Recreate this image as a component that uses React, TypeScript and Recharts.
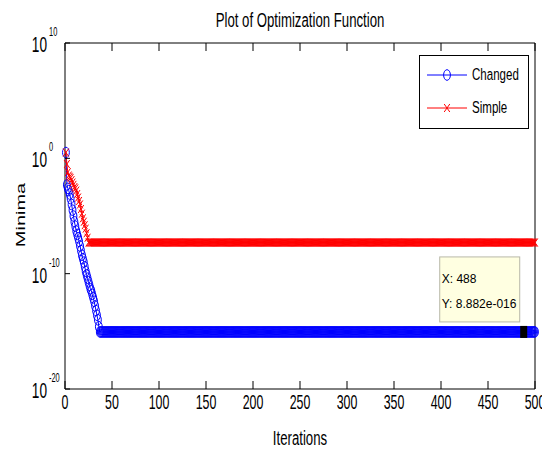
import React from 'react';
import { LineChart, Line, XAxis, YAxis, ReferenceDot } from 'recharts';

// ---- data ----
const iterationCount = 500;
const changedEarly = [
  3.2, 5e-3, 2.5e-3, 1.6e-3, 8e-4, 3.2e-4, 1e-4, 3.2e-5, 1e-5, 3.2e-6,
  1.3e-6, 5e-7, 2.5e-7, 1.3e-7, 6.3e-8, 2.5e-8, 1e-8, 4e-9, 2e-9, 1e-9,
  4e-10, 1.6e-10, 8e-11, 4e-11, 2e-11, 1e-11, 5e-12, 3.2e-12, 1.6e-12, 8e-13,
  4e-13, 1.6e-13, 6.3e-14, 2.5e-14, 1e-14, 2.5e-15,
];
const changedFinal = 8.882e-16;
const simpleEarly = [
  3.2, 0.32, 6.3e-2, 3.2e-2, 2.5e-2, 2e-2, 1.3e-2, 8e-3, 5e-3, 3.2e-3,
  2.5e-3, 1.6e-3, 8e-4, 4e-4, 2e-4, 1e-4, 4e-5, 1.6e-5, 6.3e-6, 3.2e-6,
  1.6e-6, 8e-7, 3.2e-7, 1.3e-7,
];
const simpleFinal = 5e-8;
const xTicks = [0, 50, 100, 150, 200, 250, 300, 350, 400, 450, 500];
const yTicks = [1e-20, 1e-10, 1, 1e10];
const dataTip = { x: 488, y: 8.882e-16, labelX: 'X: 488', labelY: 'Y: 8.882e-016' };
const seriesNames = { changed: 'Changed', simple: 'Simple' };
const title = 'Plot of Optimization Function';
const xLabel = 'Iterations';
const yLabel = 'Minima';

const data = Array.from({ length: iterationCount }, (_, i) => ({
  iter: i + 1,
  changed: i < changedEarly.length ? changedEarly[i] : changedFinal,
  simple: i < simpleEarly.length ? simpleEarly[i] : simpleFinal,
}));

// ---- styling ----
const FONT = '"Liberation Sans", Arial, Helvetica, sans-serif';
const SQ = 0.62;
const BLUE = '#0000ff';
const RED = '#ff0000';

const Circle = (cx: number, cy: number, key?: any) => (
  <ellipse key={key} cx={cx} cy={cy} rx={3.4} ry={5.3} fill="none" stroke={BLUE} strokeWidth={1} />
);
const Cross = (cx: number, cy: number, key?: any) => (
  <path
    key={key}
    d={`M${cx - 2.8},${cy - 4} L${cx + 2.8},${cy + 4} M${cx - 2.8},${cy + 4} L${cx + 2.8},${cy - 4}`}
    stroke={RED}
    strokeWidth={1}
    fill="none"
  />
);

const STxt = ({ x, y, size, anchor = 'start', sx = SQ, children }: any) => (
  <text
    transform={`translate(${x},${y}) scale(${sx},1)`}
    textAnchor={anchor}
    fontSize={size}
    fontFamily={FONT}
    fill="#000"
  >
    {children}
  </text>
);

const BottomTick = (p: any) => (
  <g>
    <line x1={p.x} x2={p.x} y1={p.y} y2={p.y - 8} stroke="#000" />
    <STxt x={p.x} y={p.y + 20} size={20} anchor="middle">
      {p.payload.value}
    </STxt>
  </g>
);
const TopTick = (p: any) => <line x1={p.x} x2={p.x} y1={p.y} y2={p.y + 8} stroke="#000" />;
const LeftTick = (p: any) => {
  const e = Math.round(Math.log10(p.payload.value));
  return (
    <g>
      <line x1={p.x} x2={p.x + 5} y1={p.y} y2={p.y} stroke="#000" />
      <STxt x={p.x - 18} y={p.y + 9} size={22} anchor="end">
        10
      </STxt>
      <STxt x={p.x - 16} y={p.y - 7} size={12}>
        {String(e)}
      </STxt>
    </g>
  );
};
const RightTick = (p: any) => <line x1={p.x} x2={p.x - 5} y1={p.y} y2={p.y} stroke="#000" />;

const DataTipShape = (p: any) => {
  const { cx, cy } = p;
  return (
    <g>
      <rect x={cx - 84} y={cy - 75} width={80} height={65} fill="#ffffe1" stroke="#b8b8a8" />
      <text x={cx - 82} y={cy - 49} fontSize={12} fontFamily={FONT} fill="#000">
        {dataTip.labelX}
      </text>
      <text x={cx - 82} y={cy - 24} fontSize={12} fontFamily={FONT} fill="#000">
        {dataTip.labelY}
      </text>
      <rect x={cx - 3.5} y={cy - 6} width={7} height={12} fill="#000" />
    </g>
  );
};

export default function App() {
  return (
    <div style={{ position: 'absolute', left: 0, top: 0, width: 542, height: 450, background: '#fff' }}>
      <LineChart width={542} height={450} data={data} margin={{ top: 0, right: 0, bottom: 0, left: 0 }}>
        <XAxis
          dataKey="iter"
          type="number"
          domain={[0, 500]}
          ticks={xTicks}
          interval={0}
          height={61}
          tickSize={0}
          tickMargin={0}
          tickLine={false}
          axisLine={{ stroke: '#000' }}
          tick={BottomTick}
        />
        <XAxis
          xAxisId="top"
          orientation="top"
          dataKey="iter"
          type="number"
          domain={[0, 500]}
          ticks={xTicks}
          interval={0}
          height={43}
          tickSize={0}
          tickMargin={0}
          tickLine={false}
          axisLine={{ stroke: '#000' }}
          tick={TopTick}
        />
        <YAxis
          scale="log"
          type="number"
          domain={[1e-20, 1e10]}
          ticks={yTicks}
          interval={0}
          width={65}
          tickSize={0}
          tickMargin={0}
          tickLine={false}
          axisLine={{ stroke: '#000' }}
          tick={LeftTick}
        />
        <YAxis
          yAxisId="right"
          orientation="right"
          scale="log"
          type="number"
          domain={[1e-20, 1e10]}
          ticks={yTicks}
          interval={0}
          width={7}
          tickSize={0}
          tickMargin={0}
          tickLine={false}
          axisLine={{ stroke: '#000' }}
          tick={RightTick}
        />
        <Line
          dataKey="changed"
          stroke={BLUE}
          strokeWidth={1}
          isAnimationActive={false}
          dot={(p: any) => Circle(p.cx, p.cy, `c${p.index}`)}
          activeDot={false}
        />
        <Line
          dataKey="simple"
          stroke={RED}
          strokeWidth={1}
          isAnimationActive={false}
          dot={(p: any) => Cross(p.cx, p.cy, `s${p.index}`)}
          activeDot={false}
        />
        <ReferenceDot x={dataTip.x} y={dataTip.y} r={5} shape={DataTipShape} />
      </LineChart>
      <svg
        width={542}
        height={450}
        style={{ position: 'absolute', left: 0, top: 0, pointerEvents: 'none' }}
      >
        <STxt x={300} y={27} size={20} anchor="middle" sx={0.66}>
          {title}
        </STxt>
        <STxt x={300} y={445} size={20} anchor="middle" sx={0.66}>
          {xLabel}
        </STxt>
        <text
          transform={`translate(25,215) scale(0.62,1) rotate(-90)`}
          textAnchor="middle"
          fontSize={20}
          fontFamily={FONT}
          fill="#000"
        >
          {yLabel}
        </text>
        <g>
          <rect x={419.5} y={55.5} width={109} height={73} fill="#fff" stroke="#000" />
          <line x1={427} x2={467} y1={75} y2={75} stroke={BLUE} />
          {Circle(447, 75)}
          <STxt x={472} y={80} size={17} sx={0.68}>
            {seriesNames.changed}
          </STxt>
          <line x1={427} x2={467} y1={108} y2={108} stroke={RED} />
          {Cross(447, 108)}
          <STxt x={472} y={113} size={17} sx={0.68}>
            {seriesNames.simple}
          </STxt>
        </g>
      </svg>
    </div>
  );
}
